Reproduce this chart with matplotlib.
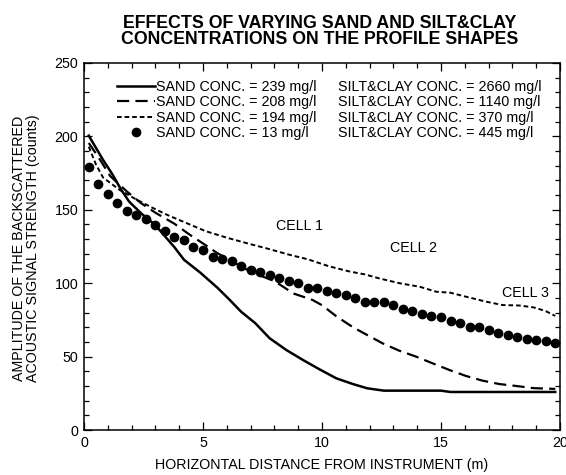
import matplotlib
matplotlib.use("Agg")
import matplotlib.pyplot as plt
from matplotlib.ticker import MultipleLocator

plt.rcParams['font.family'] = ['Liberation Sans', 'DejaVu Sans']

# ---- data ----
solid_x = [0.2, 0.8, 1.2, 1.55, 1.9, 2.4, 3.0, 3.4, 3.8, 4.2, 4.9, 5.6, 6.1, 6.6, 7.2, 7.8,
           8.5, 9.2, 9.9, 10.6, 11.3, 11.9, 12.6, 15.0, 15.4, 19.8]
solid_y = [200.5, 184, 174, 164, 155.5, 147.6, 139.5, 132, 124.5, 116, 107, 97, 89, 80.6, 72.7, 62.5,
           54.5, 47.7, 41.3, 35.2, 31.3, 28.4, 26.8, 26.8, 25.9, 25.9]

dash_x = [0.2, 0.6, 1.1, 1.8, 2.4, 3.0, 3.8, 4.4, 5.1, 5.6, 6.2, 7.1, 8.0, 8.8, 9.6, 10.0,
          10.6, 11.3, 11.9, 12.55, 13.25, 13.95, 14.65, 15.35, 16.05, 16.75, 17.45, 18.15, 18.9, 19.8]
dash_y = [195.5, 186, 173, 162.5, 154.5, 148, 140.5, 133.5, 126, 120.5, 115, 107, 101.5, 93, 88.6, 85,
          77.5, 70, 64.7, 59, 54, 50, 45.4, 40.9, 36.8, 33.6, 31.3, 30, 28.5, 28]

short_x = [0.2, 0.5, 0.8, 1.5, 2.2, 2.8, 3.5, 4.3, 5.1, 6.0, 6.9, 7.7, 8.6, 9.4, 10.3, 11.15,
           11.8, 12.4, 13.25, 14.1, 14.8, 15.4, 16.0, 16.9, 17.6, 18.3, 18.9, 19.4, 19.8]
short_y = [193, 181, 172, 163.5, 157, 152, 146.5, 141, 135.5, 131, 127, 123.6, 119.5, 116.3, 111.5, 108,
           106, 103.3, 100, 97.6, 94.2, 93.5, 91, 87.4, 85.1, 84.8, 83.5, 81, 77.7]

dot_x = [0.2, 0.6, 1.0, 1.4, 1.8, 2.2, 2.6, 3.0, 3.4, 3.8, 4.2, 4.6, 5.0, 5.4, 5.8, 6.2, 6.6,
         7.0, 7.4, 7.8, 8.2, 8.6, 9.0, 9.4, 9.8, 10.2, 10.6, 11.0, 11.4, 11.8, 12.2, 12.6, 13.0,
         13.4, 13.8, 14.2, 14.6, 15.0, 15.4, 15.8, 16.2, 16.6, 17.0, 17.4, 17.8, 18.2, 18.6, 19.0,
         19.4, 19.8]
dot_y = [179, 167.6, 160.5, 154.4, 149.4, 146.5, 143.5, 139.4, 135.6, 131.5, 129.4, 124.7, 122.6,
         117.8, 116.6, 114.8, 111.7, 108.7, 107.9, 105.6, 103.7, 101.6, 100.1, 96.7, 96.5, 94.7,
         93.1, 91.7, 89.9, 87.2, 87, 87, 84.9, 82.4, 80.8, 79, 77.9, 76.8, 74, 73.1, 70.2, 70,
         68.1, 65.9, 64.9, 63.2, 62.2, 61.6, 60.7, 59.6]

sand_labels = ["SAND CONC. = 239 mg/l", "SAND CONC. = 208 mg/l",
               "SAND CONC. = 194 mg/l", "SAND CONC. = 13 mg/l"]
silt_labels = ["SILT&CLAY CONC. = 2660 mg/l", "SILT&CLAY CONC. = 1140 mg/l",
               "SILT&CLAY CONC. = 370 mg/l", "SILT&CLAY CONC. = 445 mg/l"]
cell_labels = ["CELL 1", "CELL 2", "CELL 3"]
cell_x = [9.05, 13.85, 18.55]
cell_y = [139, 124, 93.5]

FS = 10.3

# ---- figure ----
W, H = 566, 475
fig = plt.figure(figsize=(W / 100, H / 100), dpi=100)
ax = fig.add_axes([84 / W, 1 - 430 / H, (560 - 84) / W, (430 - 63) / H])

l1, = ax.plot(solid_x, solid_y, color='black', lw=1.8, solid_joinstyle='round')
l2, = ax.plot(dash_x, dash_y, color='black', lw=1.6, dashes=(5.5, 2.8))
l3, = ax.plot(short_x, short_y, color='black', lw=1.4, dashes=(2.4, 1.5))
l4, = ax.plot(dot_x, dot_y, linestyle='none', marker='o', color='black', markersize=6)

ax.set_xlim(0, 20)
ax.set_ylim(0, 250)
ax.xaxis.set_major_locator(MultipleLocator(5))
ax.xaxis.set_minor_locator(MultipleLocator(1))
ax.yaxis.set_major_locator(MultipleLocator(50))
ax.yaxis.set_minor_locator(MultipleLocator(10))
ax.tick_params(which='both', direction='in', top=True, right=True, labelsize=FS,
               width=0.9, color='black')
ax.tick_params(which='major', length=6, pad=4)
ax.tick_params(which='minor', length=3.5)
for s in ax.spines.values():
    s.set_linewidth(1.1)

ax.set_xlabel("HORIZONTAL DISTANCE FROM INSTRUMENT (m)", fontsize=FS, labelpad=6)
fig.text(26 / W, 1 - 248 / H, "AMPLITUDE OF THE BACKSCATTERED\nACOUSTIC SIGNAL STRENGTH (counts)",
         rotation=90, ha='center', va='center', fontsize=FS, linespacing=0.92)

fig.text(320 / W, 1 - 31.5 / H, "EFFECTS OF VARYING SAND AND SILT&CLAY\nCONCENTRATIONS ON THE PROFILE SHAPES",
         ha='center', va='center', fontsize=12.8, fontweight='bold', linespacing=0.98)

for t, x, y in zip(cell_labels, cell_x, cell_y):
    ax.text(x, y, t, ha='center', va='center', fontsize=FS)

leg = ax.legend([l1, l2, l3, l4], sand_labels, loc='upper left',
                bbox_to_anchor=((117 - 84) / (560 - 84), (430 - 80) / (430 - 63)),
                frameon=False, fontsize=FS, handlelength=2.65, handletextpad=0.08,
                labelspacing=0.1, borderpad=0, borderaxespad=0, numpoints=1)

fig.canvas.draw()
inv = ax.transAxes.inverted()
for txt, lab in zip(leg.get_texts(), silt_labels):
    bb = txt.get_window_extent()
    yc = inv.transform((0, (bb.y0 + bb.y1) / 2))[1]
    ax.text((338 - 84) / (560 - 84), yc, lab, transform=ax.transAxes,
            ha='left', va='center', fontsize=FS)

fig.savefig("out.png", dpi=100)
